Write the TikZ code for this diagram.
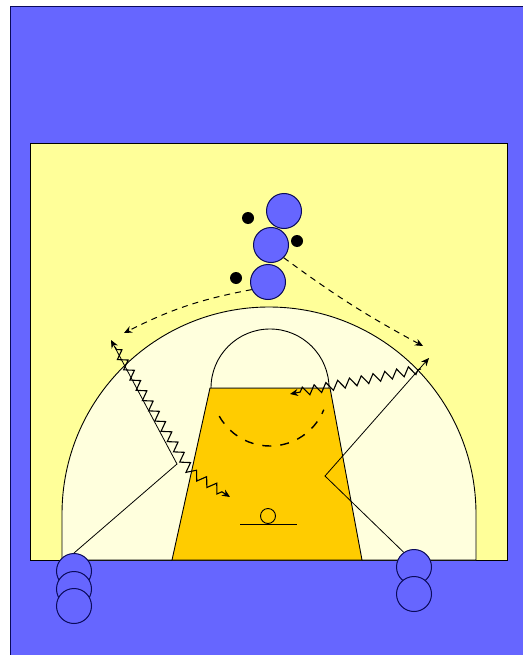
\documentclass[tikz,border=0pt]{standalone}
\definecolor{floorblue}{RGB}{102,102,255}
\definecolor{courtyellow}{RGB}{255,255,153}
\definecolor{arcyellow}{RGB}{255,255,221}
\definecolor{keyorange}{RGB}{255,204,0}
\definecolor{rimnavy}{RGB}{10,10,90}
\usepackage{tikz}
\usetikzlibrary{arrows.meta, positioning, decorations.pathmorphing}
\tikzset{
  player/.style={
    circle, draw=rimnavy, fill=floorblue, line width=1pt,
    minimum size=35pt, inner sep=0pt
  },
  ballmark/.style={circle, fill=black, minimum size=12pt, inner sep=0pt},
  courtline/.style={draw=black, line width=0.9pt},
  cutline/.style={-{Stealth[length=8pt,width=7pt]}, line width=0.8pt},
  passline/.style={-{Stealth[length=8pt,width=7pt]}, line width=1pt, dash pattern=on 6pt off 5pt},
  dribble/.style={-{Stealth[length=8pt,width=7pt]}, line width=1.1pt, decorate,
    decoration={zigzag, segment length=12pt, amplitude=4.5pt, pre length=3pt, post length=9pt}}
}

\begin{document}
\begin{tikzpicture}[x=1pt, y=-1pt]
  \useasboundingbox (0,0) rectangle (522,655);
  % Draw floor and court
  \fill[white] (0,0) rectangle (522,655);
  \filldraw[fill=floorblue, draw=rimnavy, line width=1pt] (10,7) rectangle (523,656);
  \filldraw[courtline, fill=courtyellow] (30,143) rectangle (507,560);

  % Draw three point line
  \filldraw[courtline, fill=arcyellow] (62,560) -- (62,514)
    arc[start angle=180, end angle=360, radius=207] -- (476,560) -- cycle;

  % Draw lane and free throw circle
  \filldraw[courtline, fill=keyorange] (210,388) -- (330,388) -- (362,560) -- (172,560) -- cycle;
  \filldraw[courtline, fill=arcyellow] (211,388) arc[start angle=180, end angle=360, radius=59] -- cycle;
  \draw[line width=1.4pt, dash pattern=on 9pt off 9pt] (270,388) ++(151:58)
    arc[start angle=151, end angle=22, radius=58];

  % Draw basket
  \draw[courtline] (240,524) -- (297,524);
  \draw[courtline] (268,516) circle (7.5);

  % Players and balls
  \node[player] (p1) at (284,211) {};
  \node[player] (p2) at (271,245) {};
  \node[player] (p3) at (268,282) {};
  \node[ballmark] (b1) at (248,218) {};
  \node[ballmark] (b2) at (297,241) {};
  \node[ballmark] (b3) at (236,278) {};

  \node[player] (l1) at (74,571) {};
  \node[player] (l2) at (74,589) {};
  \node[player] (l3) at (74,606) {};
  \node[player] (r1) at (414,567) {};
  \node[player] (r2) at (414,594) {};

  % Cuts
  \coordinate (lcorner) at (177,464);
  \coordinate (ltip) at (111,340);
  \coordinate (rcorner) at (325,476);
  \coordinate (rtip) at (429,358);
  \draw[cutline] (l1.north) -- (lcorner) -- (ltip);
  \draw[cutline] (r1.125) -- (rcorner) -- (rtip);

  % Passes
  \coordinate (lpass) at (124,333);
  \coordinate (rpass) at (423,346);
  \draw[passline] (p3.205) to[bend right=8] (lpass);
  \draw[passline] (p2.315) to[bend right=4] (rpass);

  % Dribbles
  \coordinate (ldrib) at (115,347);
  \coordinate (lbend) at (191,472);
  \coordinate (ldtip) at (230,497);
  \coordinate (rdrib) at (421,369);
  \coordinate (rdtip) at (290,394);
  \draw[dribble] (ldrib) -- (lbend) -- (ldtip);
  \draw[dribble] (rdrib) -- (rdtip);
\end{tikzpicture}
\end{document}
